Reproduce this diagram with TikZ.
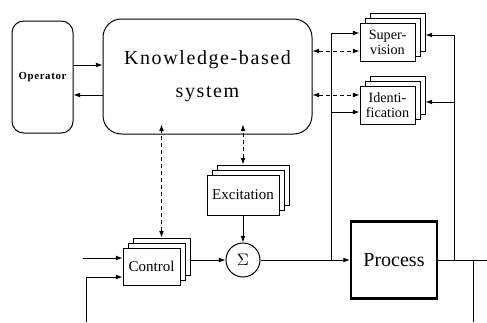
\documentclass[tikz,border=0pt]{standalone}
\usepackage{fontspec}
\setmainfont{Liberation Serif}
\newfontfamily\spaced[LetterSpace=8]{Liberation Serif}
\newfontfamily\opfont[LetterSpace=6]{Liberation Serif}
\usetikzlibrary{arrows.meta,shadows}

\tikzset{
  line/.style={line width=0.6pt},
  arr/.style={line, -{Latex[length=4pt,width=3pt]}},
  darr/.style={arr, {Latex[length=4pt,width=3pt]}-{Latex[length=4pt,width=3pt]}, dash pattern=on 2.4pt off 1.8pt},
  stack/.style={draw, line, fill=white, align=center, inner sep=1pt,
    copy shadow={shadow xshift=6pt, shadow yshift=6pt, draw, fill=white},
    copy shadow={shadow xshift=3pt, shadow yshift=3pt, draw, fill=white}}
}

\begin{document}
\begin{tikzpicture}[x=0.6pt,y=-0.6pt]
    \useasboundingbox (0,0) rectangle (487,322);

    % Operator and knowledge base
    \node[draw,line,rounded corners=7pt,minimum width=36.6pt,minimum height=67.2pt,inner sep=0pt,
        font=\opfont\bfseries\fontsize{6.5}{8}\selectfont] (op) at (42.5,77) {Operator};
    \node[draw,line,rounded corners=11pt,minimum width=125.4pt,minimum height=69pt,align=center,
        font=\spaced\fontsize{12}{20}\selectfont] (kbs) at (207.5,76.5) {Knowledge-based\\system};

    \draw[arr] ([yshift=7.2pt]op.east) -- ([yshift=7.2pt]op.east -| kbs.west);
    \draw[arr] ([yshift=-10.8pt]op.east -| kbs.west) -- ([yshift=-10.8pt]op.east);

    % Supervision and identification
    \node[stack,minimum width=33pt,minimum height=22.8pt,font=\fontsize{8.5}{9}\selectfont] (sup) at (387.5,42)
        {Super-\\vision};
    \node[stack,minimum width=33pt,minimum height=22.8pt,font=\fontsize{8.5}{9}\selectfont] (idf) at (387.5,105)
        {Identi-\\fication};
    \coordinate (supr) at ([xshift=6pt]sup.east);
    \coordinate (idfr) at ([xshift=6pt]idf.east);

    \coordinate (d1) at (0,51);
    \coordinate (d2) at (0,95);
    \draw[darr] (d1 -| kbs.east) -- (d1 -| sup.west);
    \draw[darr] (d2 -| kbs.east) -- (d2 -| idf.west);

    % Control loop
    \node[stack,minimum width=34.2pt,minimum height=22.2pt,font=\fontsize{9}{10}\selectfont] (ctl) at (151.5,266.5)
        {Control};
    \node[stack,minimum width=43.2pt,minimum height=24pt,font=\fontsize{9}{10}\selectfont] (exc) at (243,195)
        {Excitation};
    \node[draw,line,circle,minimum size=20.4pt,inner sep=0pt,font=\fontsize{10}{10}\selectfont] (sum) at (243,260)
        {$\Sigma$};
    \node[draw,line width=1.3pt,minimum width=51.6pt,minimum height=46.2pt,font=\fontsize{12}{14}\selectfont] (proc) at (394,260)
        {Process};

    \draw[darr] ([shift={(6pt,6pt)}]ctl.north) -- ([shift={(6pt,6pt)}]ctl.north |- kbs.south);
    \draw[darr] ([yshift=6pt]exc.north) -- ([yshift=6pt]exc.north |- kbs.south);
    \draw[arr] (exc) -- (sum);
    \draw[arr] ([xshift=6pt]ctl.east |- sum) -- (sum);
    \draw[arr] (sum) -- (proc);

    % inputs to control
    \coordinate (r1) at (83,258);
    \coordinate (r2) at (86,322);
    \coordinate (r3) at (86,277);
    \draw[arr] (r1) -- (r1 -| ctl.west);
    \draw[line] (r2) -- (r3);
    \draw[arr] (r3) -- (r3 -| ctl.west);

    % branch of process input
    \coordinate (br) at (331,260);
    \coordinate (b1) at (331,33);
    \coordinate (b2) at (331,112);
    \draw[line] (br) -- (b1);
    \draw[arr] (b1) -- (b1 -| sup.west);
    \draw[arr] (b2) -- (b2 -| idf.west);

    % process output
    \coordinate (out) at (487,260);
    \coordinate (j1) at (454,260);
    \coordinate (j2) at (473,260);
    \coordinate (fb) at (473,322);
    \coordinate (c1) at (454,35);
    \coordinate (c2) at (454,102);
    \draw[line] (proc) -- (out);
    \draw[line] (j1) -- (c1);
    \draw[line] (j2) -- (fb);
    \draw[arr] (c1) -- (supr |- c1);
    \draw[arr] (c2) -- (idfr |- c2);
\end{tikzpicture}
\end{document}
